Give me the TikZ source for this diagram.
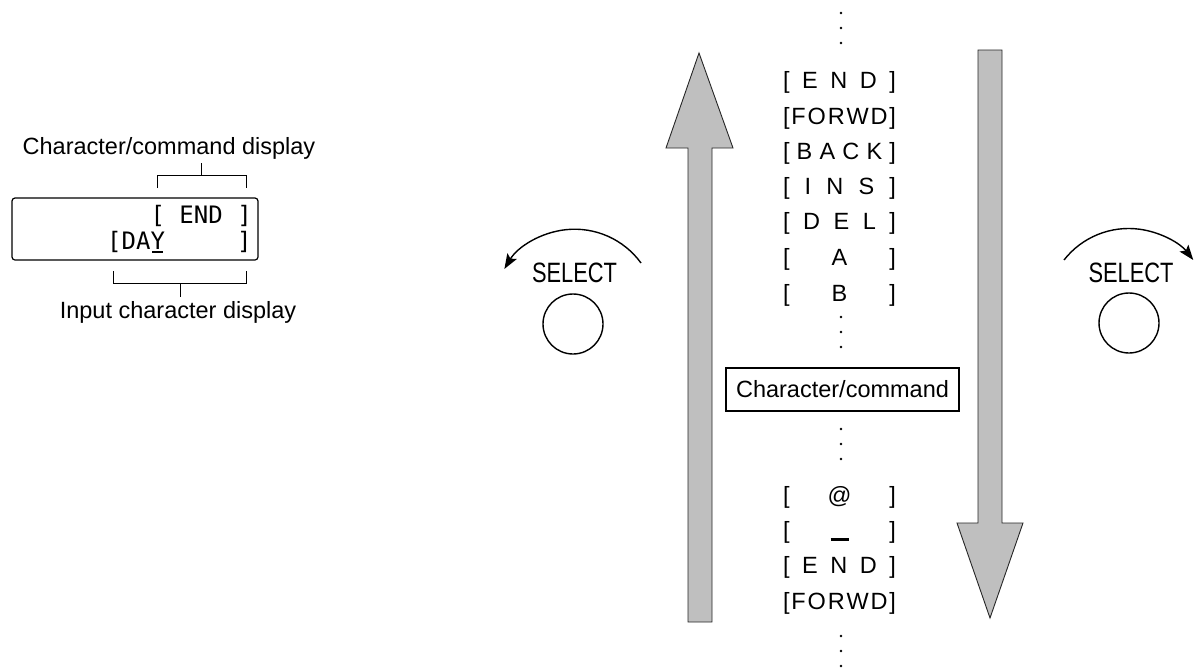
\documentclass[tikz,border=0pt]{standalone}
\usepackage{fontspec}
\setmainfont{Liberation Sans}
\newfontfamily\lcdfont{DejaVu Sans Mono}
\usetikzlibrary{arrows.meta}
\newcommand\rowfill[1]{\hbox to 113pt{#1}}
\tikzset{
  lbl/.style={font=\fontsize{23.5}{28}\selectfont, inner sep=0pt},
  rowtxt/.style={font=\fontsize{23.5}{28}\selectfont, inner sep=0pt, anchor=center},
  lcd/.style={font=\lcdfont\fontsize{24}{28}\selectfont, inner sep=0pt, anchor=base west},
  bigarrow/.style={fill=gray!50, draw=black!85, line width=0.9pt, line join=miter},
  knob/.style={draw, line width=1.4pt, circle, minimum size=60pt, inner sep=0pt},
  selarc/.style={line width=1.4pt, -{Stealth[length=15pt,width=11pt,inset=3pt]}},
  dotm/.style={fill, circle, inner sep=0pt, minimum size=2.8pt},
  brk/.style={line width=1pt},
  selectlbl/.style={inner sep=0pt},
  cmdbox/.style={draw, line width=1.8pt, inner sep=0pt, minimum width=233pt, minimum height=43pt,
                 font=\fontsize{23.5}{28}\selectfont},
}
\begin{document}
\begin{tikzpicture}[x=1pt,y=-1pt]
\useasboundingbox (0,0) rectangle (1194,667);

% ---------- left panel ----------
\node[lbl] (cclabel) at (169,148) {Character/command display};
\node[lbl] (iclabel) at (178,312) {Input character display};
\node[draw, rounded corners=3pt, line width=1.2pt, minimum width=246pt, minimum height=62pt, inner sep=0pt] (lcdbox) at (135,229) {};
\node[lcd] (lcd1) at (150.4,223) {[\phantom{A}END\phantom{A}]};
\node[lcd] (lcd2) at (107,249) {[DAY\phantom{AAAAA}]};
\draw[line width=2.5pt] (152,252) -- (163,252);
\draw[brk] (157,188) -- (157,175) -- (246,175) -- (246,188);
\draw[brk] (201,175) -- (201,163);
\draw[brk] (113,271) -- (113,283) -- (246,283) -- (246,271);
\draw[brk] (180,283) -- (180,297);

% ---------- SELECT knobs ----------
\node[selectlbl] (selL) at (574.5,273) {\scalebox{0.78}[1]{\fontsize{28}{30}\selectfont SELECT}};
\node[knob] (knobL) at (573,324) {};
\coordinate (arcLs) at (641,263);
\draw[selarc] (arcLs) arc[start angle=36,end angle=149,radius=82pt];

\node[selectlbl] (selR) at (1131,273) {\scalebox{0.78}[1]{\fontsize{28}{30}\selectfont SELECT}};
\node[knob] (knobR) at (1129,323) {};
\coordinate (arcRs) at (1064,260);
\draw[selarc] (arcRs) arc[start angle=142,end angle=38,radius=82pt];

% ---------- big arrows ----------
\draw[bigarrow] (688,622) -- (688,148) -- (666,148) -- (699,53) -- (733,148) -- (712,148) -- (712,622) -- cycle;
\draw[bigarrow] (978,50) -- (1002,50) -- (1002,523) -- (1023,523) -- (990,618) -- (957,523) -- (978,523) -- cycle;

% ---------- column ----------
\foreach \y [count=\i] in {13,28,43,317,332,347,429,444,459,636,651,666}
  \node[dotm] (d\i) at (841,\y) {};
\node[rowtxt] (r1) at (839.5,82) {\rowfill{[\hfill E\hfill N\hfill D\hfill]}};
\node[rowtxt] (r2) at (839.5,118) {\rowfill{[\hfill F\hfill O\hfill R\hfill W\hfill D\hfill]}};
\node[rowtxt] (r3) at (839.5,153) {\rowfill{[\hfill B\hfill A\hfill C\hfill K\hfill]}};
\node[rowtxt] (r4) at (839.5,188) {\rowfill{[\hfill I\hfill N\hfill S\hfill]}};
\node[rowtxt] (r5) at (839.5,223) {\rowfill{[\hfill D\hfill E\hfill L\hfill]}};
\node[rowtxt] (r6) at (839.5,259) {\rowfill{[\hfill A\hfill]}};
\node[rowtxt] (r7) at (839.5,295) {\rowfill{[\hfill B\hfill]}};
\node[cmdbox] (cmd) at (842.5,389.5) {Character/command};
\node[rowtxt] (r8) at (839.5,497) {\rowfill{[\hfill @\hfill]}};
\node[rowtxt] (r9) at (839.5,532) {\rowfill{[\hfill\rule[-2.5pt]{18pt}{2.5pt}\hfill]}};
\node[rowtxt] (r10) at (839.5,567) {\rowfill{[\hfill E\hfill N\hfill D\hfill]}};
\node[rowtxt] (r11) at (839.5,603) {\rowfill{[\hfill F\hfill O\hfill R\hfill W\hfill D\hfill]}};
\end{tikzpicture}
\end{document}
